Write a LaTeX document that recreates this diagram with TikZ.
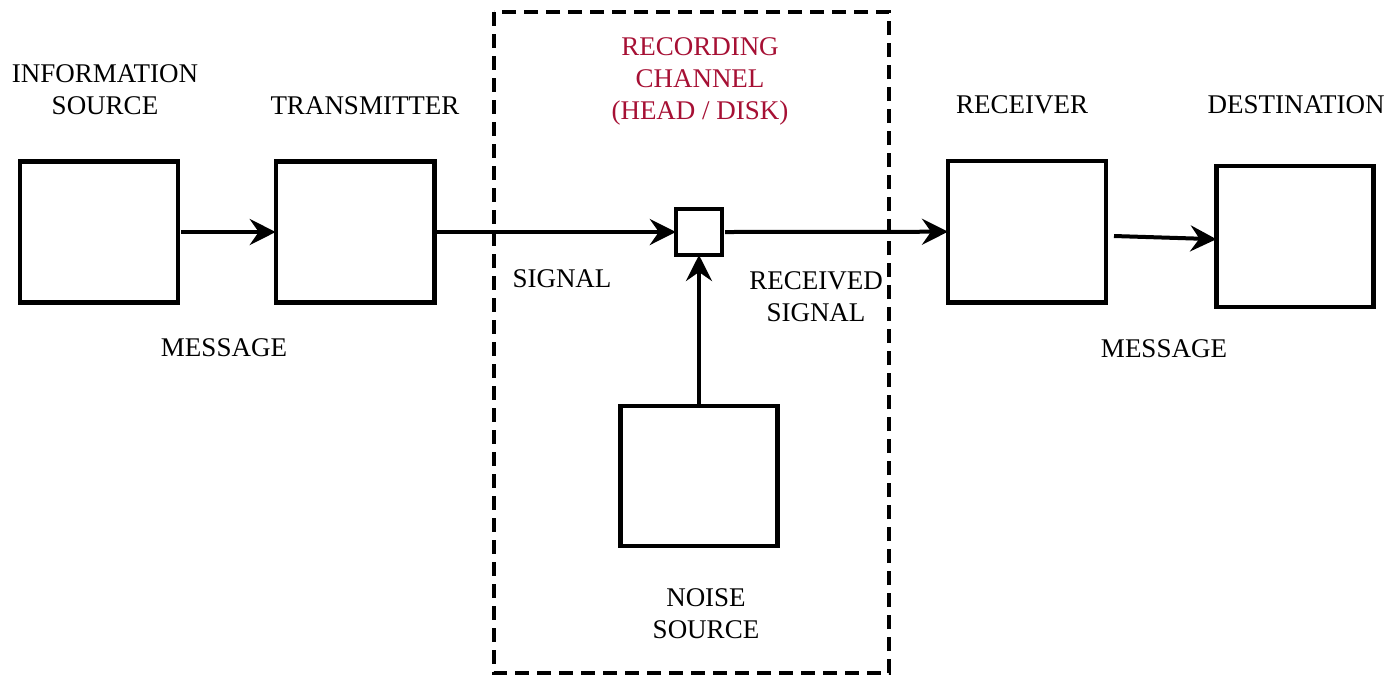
\documentclass[tikz,border=0pt]{standalone}
\usepackage{fontspec}
\setmainfont{Liberation Serif}
\usetikzlibrary{arrows.meta}
\definecolor{chanred}{RGB}{166,16,52}
\begin{document}
\begin{tikzpicture}[x=0.5pt,y=-0.5pt,
  blk/.style={draw,line width=2.2pt,inner sep=0pt,outer sep=0pt},
  conn/.style={line width=2pt,-{Stealth[length=13pt,width=13pt,inset=4.5pt]}},
  lbl/.style={inner sep=0pt,align=center,font=\fontsize{13.5pt}{16pt}\selectfont},
  frame/.style={draw,line width=1.9pt,dash pattern=on 7pt off 4pt}]
\useasboundingbox (0,0) rectangle (1388,677);
% dashed channel frame
\draw[frame] (494,12) rectangle (889,673);
% blocks
\node[blk,minimum width=79pt,minimum height=70.5pt] (src) at (99,232) {};
\node[blk,minimum width=79.3pt,minimum height=70.5pt] (tx) at (355,232) {};
\node[blk,minimum width=23.2pt,minimum height=23pt] (sum) at (699,232) {};
\node[blk,minimum width=78.5pt,minimum height=70.2pt] (noise) at (699,476) {};
\node[blk,minimum width=79pt,minimum height=70.6pt] (rx) at (1027,231.7) {};
\node[blk,minimum width=78.6pt,minimum height=70.5pt] (dst) at (1295,236.2) {};
% connectors
\draw[conn] ([xshift=1.5pt]src.east) -- (tx.west);
\draw[conn] (tx.east) -- (sum.west);
\draw[conn] ([xshift=1.5pt]sum.east) -- (rx.west);
\draw[conn] ([shift={(8,4.3)}]rx.east) -- ([shift={(0,3)}]dst.west);
\draw[conn] (noise.north) -- (sum.south);
% labels
\node[lbl] (lsrc) at (105,89.5) {INFORMATION\\SOURCE};
\node[lbl,anchor=base] (ltx) at (365,114) {TRANSMITTER};
\node[lbl,anchor=base] (lmsg1) at (224,356) {MESSAGE};
\node[lbl,text=chanred] (lchan) at (700,81) {RECORDING\\CHANNEL\\(HEAD / DISK)};
\node[lbl,anchor=base] (lsig) at (562,287) {SIGNAL};
\node[lbl] (lrsig) at (816,297) {RECEIVED\\SIGNAL};
\node[lbl,anchor=base] (lrx) at (1022,113) {RECEIVER};
\node[lbl,anchor=base] (ldst) at (1296,113) {DESTINATION};
\node[lbl,anchor=base] (lmsg2) at (1164,357) {MESSAGE};
\node[lbl] (lnoise) at (706,614) {NOISE\\SOURCE};
\end{tikzpicture}
\end{document}
